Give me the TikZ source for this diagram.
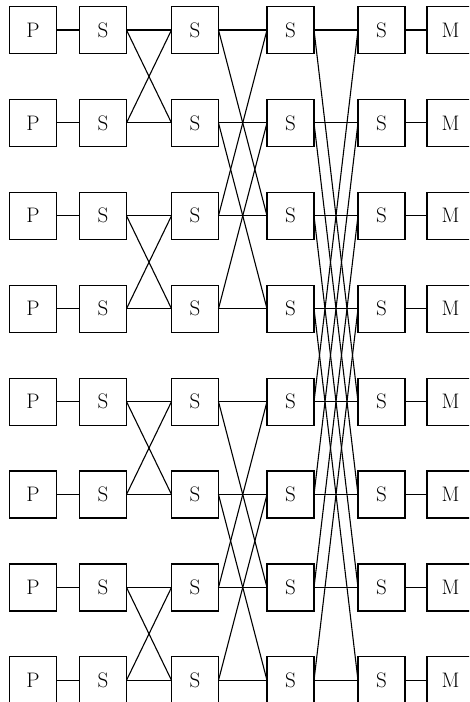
\documentclass[tikz,border=0pt]{standalone}
\usepackage{tikz}
\usetikzlibrary{positioning}
\tikzset{
    unit/.style={rectangle, draw, line width=1.2pt, minimum width=47pt,
                 minimum height=47pt, inner sep=0pt, outer sep=0pt,
                 font=\fontsize{21}{24}\selectfont},
    link/.style={draw, line width=1.1pt},
}
\begin{document}
\begin{tikzpicture}[x=1pt,y=-1pt]
    \useasboundingbox (0,0) rectangle (469,702);
    \clip (0,0) rectangle (469,702);

    % Processors, four switch stages and memories, row by row
    \foreach \r in {1,...,8} {
        \pgfmathsetmacro{\y}{30+92.9*(\r-1)}
        \node [unit] (p\r)  at (33,\y)    {P};
        \node [unit] (sa\r) at (103,\y)   {S};
        \node [unit] (sb\r) at (195,\y)   {S};
        \node [unit] (sc\r) at (290.5,\y) {S};
        \node [unit] (sd\r) at (381.5,\y) {S};
        \node [unit] (m\r)  at (450.5,\y) {M};
    }

    % Straight links
    \foreach \r in {1,...,8} {
        \draw[link] (p\r)  -- (sa\r);
        \draw[link] (sa\r) -- (sb\r);
        \draw[link] (sb\r) -- (sc\r);
        \draw[link] (sc\r) -- (sd\r);
        \draw[link] (sd\r) -- (m\r);
    }

    % Crossed links, stage 1
    \foreach \a/\b in {1/2,3/4,5/6,7/8} {
        \draw[link] (sa\a.east) -- (sb\b.west);
        \draw[link] (sa\b.east) -- (sb\a.west);
    }
    % Crossed links, stage 2
    \foreach \a/\b in {1/3,2/4,5/7,6/8} {
        \draw[link] (sb\a.east) -- (sc\b.west);
        \draw[link] (sb\b.east) -- (sc\a.west);
    }
    % Crossed links, stage 3
    \foreach \a/\b in {1/5,2/6,3/7,4/8} {
        \draw[link] (sc\a.east) -- (sd\b.west);
        \draw[link] (sc\b.east) -- (sd\a.west);
    }
\end{tikzpicture}
\end{document}
